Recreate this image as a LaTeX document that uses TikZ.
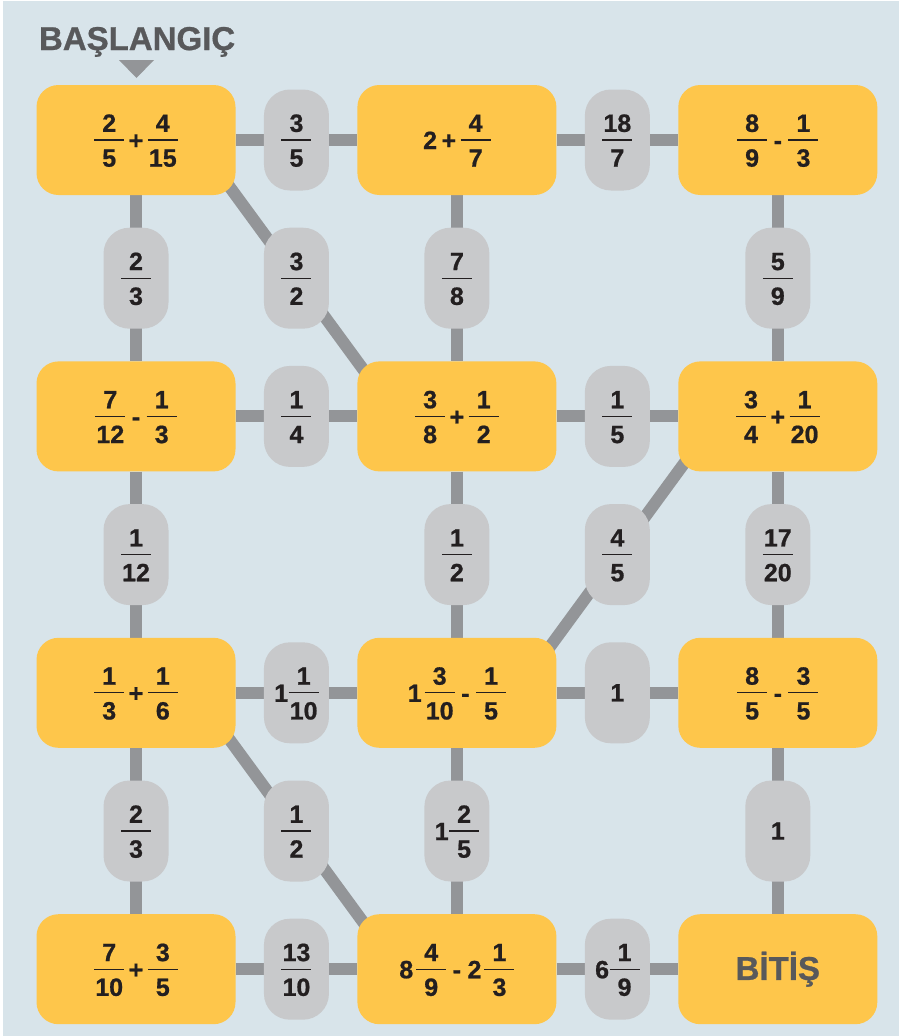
\documentclass[tikz,border=0pt]{standalone}
\usepackage{fontspec}
\setmainfont{Liberation Sans}[BoldFeatures={FakeBold=0.8}]
\usetikzlibrary{positioning}

\definecolor{paper}{RGB}{216,228,234}
\definecolor{tile}{RGB}{254,198,75}
\definecolor{chip}{RGB}{200,201,203}
\definecolor{rail}{RGB}{147,149,152}
\definecolor{ink}{RGB}{35,31,32}
\definecolor{label}{RGB}{88,89,91}

\pgfdeclarelayer{links}
\pgfsetlayers{links,main}

% fraction with its bar at the height of the plus sign
\newlength\fracbar
\setlength\fracbar{30pt}
\setlength\arrayrulewidth{1.3pt}
\newcommand\fr[2]{\raisebox{-17.6pt}{\begin{tabular}[b]{@{}c@{}}\rule{0pt}{26pt}\makebox[\fracbar]{#1}\\\hline\rule{0pt}{26pt}#2\end{tabular}}}
\newcommand\pl{\hspace{4.5pt}+\hspace{4.5pt}}
\newcommand\mi{\hspace{6.5pt}-\hspace{6.5pt}}
\newcommand\wh[1]{#1\hspace{3pt}}
\newcommand\pw[1]{#1\hspace{0.5pt}}

\begin{document}
\begin{tikzpicture}[
  x=1pt, y=-1pt,
  node distance=166pt and 121.5pt,
  every node/.style={font=\fontsize{25}{25}\selectfont\bfseries, text=ink},
  box/.style={
    fill=tile,
    rounded corners=22pt,
    minimum width=199pt,
    minimum height=110pt,
    inner sep=0pt
  },
  pill/.style={
    fill=chip,
    rounded corners=26pt,
    minimum width=65pt,
    minimum height=101pt,
    inner sep=0pt
  },
  link/.style={draw=rail, line width=12pt},
  slant/.style={link, shorten <=-25pt, shorten >=-25pt},
  big/.style={font=\fontsize{33}{33}\selectfont\bfseries, text=label}
]
  \useasboundingbox (0,0) rectangle (899,1036);

  % tiles
  \node[box] (b11) at (136,140) {\fr{2}{5}\pl\fr{4}{15}};
  \node[box,right=of b11] (b12) {2\pl\fr{4}{7}};
  \node[box,right=of b12] (b13) {\fr{8}{9}\mi\fr{1}{3}};
  \node[box,below=of b11] (b21) {\fr{7}{12}\mi\fr{1}{3}};
  \node[box,right=of b21] (b22) {\fr{3}{8}\pl\fr{1}{2}};
  \node[box,right=of b22] (b23) {\fr{3}{4}\pl\fr{1}{20}};
  \node[box,below=of b21] (b31) {\fr{1}{3}\pl\fr{1}{6}};
  \node[box,right=of b31] (b32) {\wh{1}\fr{3}{10}\mi\fr{1}{5}};
  \node[box,right=of b32] (b33) {\fr{8}{5}\mi\fr{3}{5}};
  \node[box,below=of b31] (b41) {\fr{7}{10}\pl\fr{3}{5}};
  \node[box,right=of b41] (b42) {\wh{8}\fr{4}{9}\mi\wh{2}\fr{1}{3}};
  \node[box,right=of b42,big] (b43) {BİTİŞ};

  \node[big,anchor=base west] (start) at (35.5,50) {BAŞLANGIÇ};
  \fill[rail] (119,60) -- (154,60) -- (136.5,78) -- cycle;

  \begin{pgfonlayer}{links}
    \fill[white] (0,0) rectangle (899,1036);
    \fill[paper] (3,1) rectangle (899,1036);

    \draw[link] (b11) -- node[pill] (p1) {\fr{3}{5}} (b12);
    \draw[link] (b12) -- node[pill] (p2) {\fr{18}{7}} (b13);
    \draw[link] (b11) -- node[pill] (p3) {\fr{2}{3}} (b21);
    \draw[slant] (b11.south east) -- node[pill] (p4) {\fr{3}{2}} (b22.north west);
    \draw[link] (b12) -- node[pill] (p5) {\fr{7}{8}} (b22);
    \draw[link] (b13) -- node[pill] (p6) {\fr{5}{9}} (b23);

    \draw[link] (b21) -- node[pill] (p7) {\fr{1}{4}} (b22);
    \draw[link] (b22) -- node[pill] (p8) {\fr{1}{5}} (b23);
    \draw[link] (b21) -- node[pill] (p9) {\fr{1}{12}} (b31);
    \draw[link] (b22) -- node[pill] (p10) {\fr{1}{2}} (b32);
    \draw[slant] (b32.north east) -- node[pill] (p11) {\fr{4}{5}} (b23.south west);
    \draw[link] (b23) -- node[pill] (p12) {\fr{17}{20}} (b33);

    \draw[link] (b31) -- node[pill] (p13) {\pw{1}\fr{1}{10}} (b32);
    \draw[link] (b32) -- node[pill] (p14) {1} (b33);
    \draw[link] (b31) -- node[pill] (p15) {\fr{2}{3}} (b41);
    \draw[slant] (b31.south east) -- node[pill] (p16) {\fr{1}{2}} (b42.north west);
    \draw[link] (b32) -- node[pill] (p17) {\pw{1}\fr{2}{5}} (b42);
    \draw[link] (b33) -- node[pill] (p18) {1} (b43);

    \draw[link] (b41) -- node[pill] (p19) {\fr{13}{10}} (b42);
    \draw[link] (b42) -- node[pill] (p20) {\pw{6}\fr{1}{9}} (b43);
  \end{pgfonlayer}
\end{tikzpicture}
\end{document}
